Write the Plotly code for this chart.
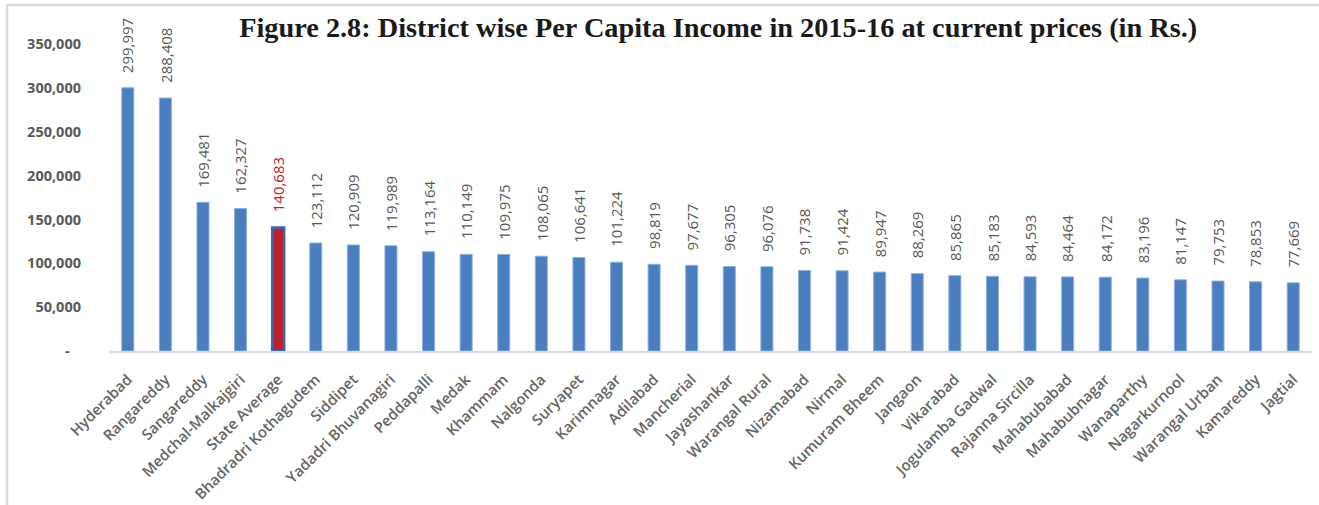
import plotly.graph_objects as go

districts = ["Hyderabad", "Rangareddy", "Sangareddy", "Medchal-Malkajgiri", "State Average",
             "Bhadradri Kothagudem", "Siddipet", "Yadadri Bhuvanagiri", "Peddapalli", "Medak",
             "Khammam", "Nalgonda", "Suryapet", "Karimnagar", "Adilabad", "Mancherial",
             "Jayashankar", "Warangal Rural", "Nizamabad", "Nirmal", "Kumuram Bheem", "Jangaon",
             "Vikarabad", "Jogulamba Gadwal", "Rajanna Sircilla", "Mahabubabad", "Mahabubnagar",
             "Wanaparthy", "Nagarkurnool", "Warangal Urban", "Kamareddy", "Jagtial"]
income = [299997, 288408, 169481, 162327, 140683, 123112, 120909, 119989, 113164, 110149,
          109975, 108065, 106641, 101224, 98819, 97677, 96305, 96076, 91738, 91424, 89947,
          88269, 85865, 85183, 84593, 84464, 84172, 83196, 81147, 79753, 78853, 77669]
highlight = "State Average"
y_ticks = [0, 50000, 100000, 150000, 200000, 250000, 300000, 350000]
y_ticktext = ["-\u00a0\u00a0\u00a0", "50,000", "100,000", "150,000", "200,000", "250,000", "300,000", "350,000"]
title_text = "Figure 2.8: District wise Per Capita Income in 2015-16 at current prices (in Rs.)"

BLUE = "#4A7EBF"
RED = "#C0202A"
GRAY = "#595959"

colors = [RED if d == highlight else BLUE for d in districts]
line_colors = ["#2E6DB4" if d == highlight else "#8DB0DE" for d in districts]
line_widths = [2.5 if d == highlight else 1 for d in districts]

fig = go.Figure(go.Bar(
    x=districts, y=income,
    marker=dict(color=colors, line=dict(color=line_colors, width=line_widths)),
    hoverinfo="x+y",
))

for d, v in zip(districts, income):
    fig.add_annotation(
        x=d, y=v, text=f"{v:,}", textangle=-90, showarrow=False,
        xanchor="center", yanchor="bottom", yshift=13,
        font=dict(family="Open Sans", size=15, color=RED if d == highlight else GRAY),
    )

fig.add_shape(type="line", xref="paper", yref="paper", x0=-0.0848, x1=-0.0848, y0=1.127, y1=-1,
              line=dict(color="#D9D9D9", width=2.5))
fig.add_shape(type="line", xref="paper", yref="paper", x0=-0.0848, x1=1.2, y0=1.127, y1=1.127,
              line=dict(color="#D9D9D9", width=2.5))

fig.update_layout(
    width=1319, height=505,
    margin=dict(l=109, r=7, t=44, b=154, autoexpand=False),
    paper_bgcolor="white", plot_bgcolor="white",
    bargap=0.68,
    showlegend=False,
    title=dict(text=f"<b>{title_text}</b>", x=0.5445, xanchor="center", y=0.947, yanchor="middle",
               font=dict(family="Liberation Serif", size=28.3, color="#1A1A1A")),
    xaxis=dict(showline=True, linecolor="#D9D9D9", linewidth=1.5, showgrid=False, automargin=False,
               tickangle=-45, ticks="", ticklabelstandoff=12,
               tickfont=dict(family="Open Sans", size=15, color="#666666", weight=600)),
    yaxis=dict(range=[0, 350000], tickvals=y_ticks, ticktext=y_ticktext, showgrid=False, automargin=False,
               zeroline=False, showline=False, ticks="", ticklabelstandoff=27,
               tickfont=dict(family="Open Sans", size=14.5, color=GRAY, weight="bold")),
)

fig.write_html("out.html", config={"displayModeBar": False},
               post_script="document.body.style.margin='0';document.body.style.overflow='hidden';")
